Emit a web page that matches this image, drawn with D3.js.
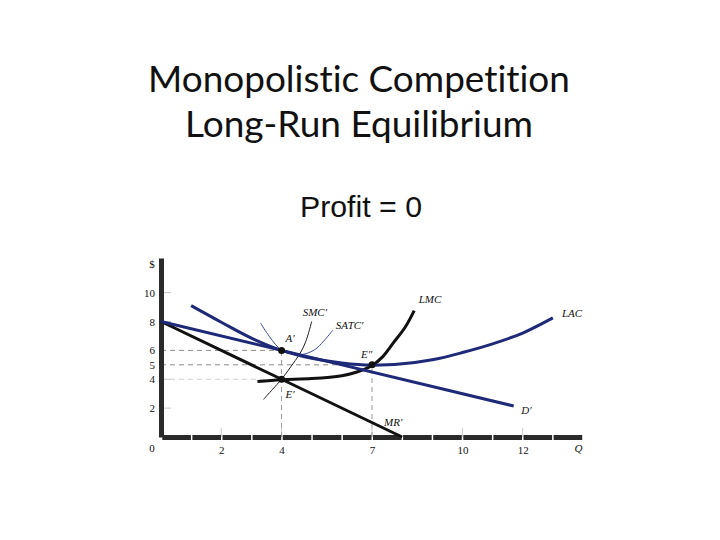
<!DOCTYPE html>
<html>
<head>
<meta charset="utf-8">
<script src="https://cdn.jsdelivr.net/npm/d3@7"></script>
<style>
  body { margin: 0; background: #fff; }
  svg { display: block; }
  .tick-label { font-family: "Liberation Serif", "DejaVu Serif", serif; font-size: 11px; fill: #111; }
  .curve-label { font-family: "Liberation Serif", "DejaVu Serif", serif; font-style: italic; font-size: 11px; fill: #111; }
</style>
</head>
<body>
<svg id="chart" width="720" height="540"></svg>
<script>
// Values (Q, $)
const xTicks = [2, 4, 7, 10, 12];
const yTicks = [2, 4, 5, 6, 8, 10];

const demandD = [[0, 8], [4, 6], [11.7, 2.15]];
const marginalRevenue = [[0, 8], [4, 4], [8, 0]];
const lacCurve = [[1, 9.1], [2, 7.95], [3, 6.85], [4, 6.0], [5, 5.45], [6, 5.12], [7, 4.97],
    [8, 5.07], [9, 5.35], [10, 5.85], [11, 6.45], [12, 7.2], [13, 8.25]];
const lmcCurve = [[3.2, 3.85], [4, 3.97], [5, 4.05], [6, 4.25], [6.5, 4.5], [7, 4.95],
    [7.35, 5.55], [7.7, 6.5], [8.1, 7.6], [8.4, 8.75]];
const smcCurve = [[3.4, 2.6], [3.7, 3.3], [4.0, 4.0], [4.3, 4.85], [4.6, 5.75], [4.8, 6.6], [5.0, 8.0]];
const satcCurve = [[3.3, 7.9], [3.6, 6.95], [4.0, 6.0], [4.35, 5.75], [4.7, 5.72], [5.1, 6.05], [5.4, 6.65], [5.7, 7.4]];

const points = [
    { name: "A′", q: 4, p: 6, dx: 4, dy: -8 },
    { name: "E′", q: 4, p: 4, dx: 4, dy: 19 },
    { name: "E″", q: 7, p: 5, dx: -11, dy: -7 },
];
const guides = [
    { q: 4, p: 6 },
    { q: 7, p: 5 },
    { q: 4, p: 4 },
];

const svg = d3.select('#chart');

// Titles
function fitText(sel, targetWidth) {
    const size = parseFloat(sel.style('font-size'));
    const w = sel.node().getComputedTextLength();
    sel.style('font-size', (size * targetWidth / w) + 'px');
}
const title1 = svg.append('text').attr('x', 359).attr('y', 92).attr('text-anchor', 'middle')
    .style('font-family', 'Lato, "Open Sans", sans-serif').style('font-size', '34px').style('fill', '#111')
    .style('font-variant-ligatures', 'none')
    .text('Monopolistic Competition');
fitText(title1, 422);
const title2 = svg.append('text').attr('x', 359).attr('y', 137).attr('text-anchor', 'middle')
    .style('font-family', 'Lato, "Open Sans", sans-serif').style('font-size', '34px').style('fill', '#111')
    .style('font-variant-ligatures', 'none')
    .text('Long-Run Equilibrium');
fitText(title2, 348);
const sub = svg.append('text').attr('x', 361).attr('y', 217).attr('text-anchor', 'middle')
    .style('font-family', '"Liberation Sans", Arial, sans-serif').style('font-size', '28px').style('fill', '#111')
    .text('Profit = 0');
fitText(sub, 122);

// Scales
const x = d3.scaleLinear([0, 14], [161, 583]);
const y = d3.scaleLinear([0, 12.4], [437, 258]);

const g = svg.append('g');

// faint tick marks
g.selectAll('.xt').data(xTicks).enter().append('line')
    .attr('x1', d => x(d)).attr('x2', d => x(d))
    .attr('y1', y(0)).attr('y2', y(0) - 9)
    .attr('stroke', '#c8c8c8').attr('stroke-width', 1);
g.selectAll('.yt').data([2, 4, 8, 10]).enter().append('line')
    .attr('x1', x(0)).attr('x2', x(0) + 10)
    .attr('y1', d => y(d)).attr('y2', d => y(d))
    .attr('stroke', '#c8c8c8').attr('stroke-width', 1);

// dashed guides
guides.forEach(d => {
    g.append('line').attr('x1', x(0)).attr('x2', x(d.q)).attr('y1', y(d.p)).attr('y2', y(d.p))
        .attr('stroke', d.p === 4 ? '#cfcfcf' : '#8a8a8a').attr('stroke-width', 1).attr('stroke-dasharray', '5,4');
    if (d.p !== 4) {
        g.append('line').attr('x1', x(d.q)).attr('x2', x(d.q)).attr('y1', y(0)).attr('y2', y(d.p))
            .attr('stroke', '#9a9a9a').attr('stroke-width', 1).attr('stroke-dasharray', '5,4');
    }
});

// Axes
const xAxis = d3.axisBottom(x).tickValues(xTicks).tickSize(0).tickPadding(9);
g.append('g').attr('transform', `translate(0,${y(0)})`).call(xAxis)
    .call(a => a.select('.domain').attr('stroke', '#2a2a2a').attr('stroke-width', 5)
        .attr('stroke-dasharray', '28.6,1.5').attr('stroke-dashoffset', -0.8))
    .call(a => a.selectAll('text').attr('class', 'tick-label').attr('font-family', null).attr('font-size', null));
const yAxis = d3.axisLeft(y).tickValues(yTicks).tickSize(0).tickPadding(6);
g.append('g').attr('transform', `translate(${x(0)},0)`).call(yAxis)
    .call(a => a.select('.domain').attr('stroke', '#2a2a2a').attr('stroke-width', 5))
    .call(a => a.selectAll('text').attr('class', 'tick-label').attr('font-family', null).attr('font-size', null));
g.append('text').attr('class', 'tick-label').attr('x', x(0) - 9).attr('y', y(0) + 15).attr('text-anchor', 'middle').text('0');
g.append('text').attr('class', 'tick-label').attr('x', x(0) - 9).attr('y', y(12.4) + 10).attr('text-anchor', 'middle').text('$');
g.append('text').attr('class', 'curve-label').attr('x', x(13.85)).attr('y', y(0) + 15).attr('text-anchor', 'middle').text('Q');

// Curves
const straight = d3.line().x(d => x(d[0])).y(d => y(d[1]));
const smooth = d3.line().x(d => x(d[0])).y(d => y(d[1])).curve(d3.curveCatmullRom);
const navy = '#1e2a78';

g.append('path').attr('d', straight(marginalRevenue)).attr('fill', 'none').attr('stroke', '#111').attr('stroke-width', 3);
g.append('path').attr('d', smooth(lmcCurve)).attr('fill', 'none').attr('stroke', '#111').attr('stroke-width', 3);
g.append('path').attr('d', smooth(smcCurve)).attr('fill', 'none').attr('stroke', '#222').attr('stroke-width', 1);
g.append('path').attr('d', smooth(satcCurve)).attr('fill', 'none').attr('stroke', '#3a4a9a').attr('stroke-width', 1);
g.append('path').attr('d', straight(demandD)).attr('fill', 'none').attr('stroke', navy).attr('stroke-width', 3);
g.append('path').attr('d', smooth(lacCurve)).attr('fill', 'none').attr('stroke', navy).attr('stroke-width', 3);

// Points
g.selectAll('.pt').data(points).enter().append('circle')
    .attr('cx', d => x(d.q)).attr('cy', d => y(d.p)).attr('r', 3.5).attr('fill', '#111');
g.selectAll('.ptl').data(points).enter().append('text').attr('class', 'curve-label')
    .attr('x', d => x(d.q) + d.dx).attr('y', d => y(d.p) + d.dy).text(d => d.name);

// Curve labels
const curveLabels = [
    { t: 'LMC', q: 8.55, p: 9.3 },
    { t: 'SMC′', q: 4.7, p: 8.4 },
    { t: 'SATC′', q: 5.8, p: 7.5 },
    { t: 'LAC', q: 13.3, p: 8.3 },
    { t: 'D′', q: 11.95, p: 1.6 },
    { t: 'MR′', q: 7.4, p: 0.75 },
];
g.selectAll('.cl').data(curveLabels).enter().append('text').attr('class', 'curve-label')
    .attr('x', d => x(d.q)).attr('y', d => y(d.p)).text(d => d.t);
</script>
</body>
</html>
